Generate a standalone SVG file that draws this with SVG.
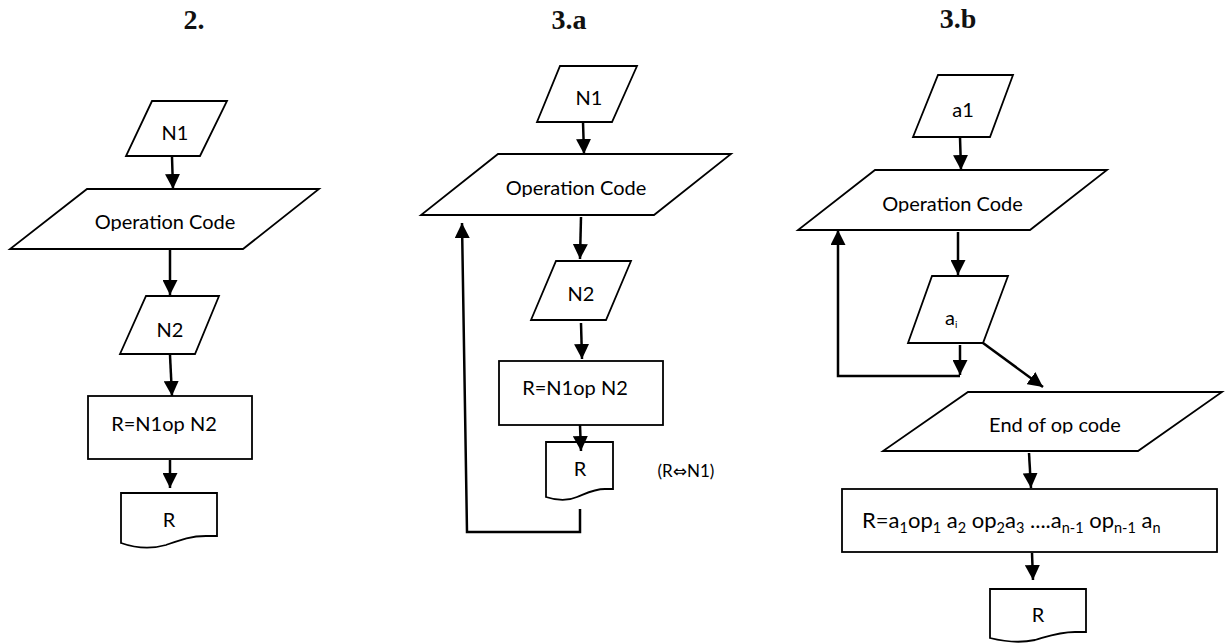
<svg xmlns="http://www.w3.org/2000/svg" width="1227" height="643" viewBox="0 0 1227 643">
<style>
.shape{fill:#fff;stroke:#000;stroke-width:1.8;stroke-linejoin:miter}
.conn{fill:none;stroke:#000;stroke-width:2.5;marker-end:url(#ah)}
.lbl{font-family:Lato,"Liberation Sans",sans-serif;font-size:20px;fill:#000;text-anchor:middle}
.sub{font-size:14.5px}
.title{font-family:"Liberation Serif","Times New Roman",serif;font-weight:bold;font-size:28px;fill:#111;text-anchor:middle}
</style>
<defs>
<marker id="ah" markerUnits="userSpaceOnUse" markerWidth="15" markerHeight="15" viewBox="0 0 15 15" refX="15" refY="7.5" orient="auto"><path d="M0,0 L15,7.5 L0,15 z" fill="#000"/></marker>
<clipPath id="c1"><rect x="0" y="180" width="330" height="51"/></clipPath>
<clipPath id="c2"><rect x="400" y="150" width="340" height="47"/></clipPath>
<clipPath id="c3"><rect x="790" y="165" width="330" height="47.5"/></clipPath>
<clipPath id="c4"><rect x="870" y="390" width="357" height="43.5"/></clipPath>
</defs>

<g id="titles">
<text class="title" x="194" y="29">2.</text>
<text class="title" x="569" y="29">3.a</text>
<text class="title" x="958" y="28">3.b</text>
</g>

<g id="p2-n1"><polygon class="shape" points="152,101 227,101 200,156 126,156"/><text class="lbl" x="175" y="140">N1</text></g>
<g id="p2-op"><polygon class="shape" points="87,189 319,189 243,249 10,249"/><text class="lbl" x="165" y="229" clip-path="url(#c1)">Operation Code</text></g>
<g id="p2-n2"><polygon class="shape" points="146,296 219,296 195,354 120,354"/><text class="lbl" x="170" y="337">N2</text></g>
<g id="p2-calc"><rect class="shape" x="88" y="396" width="164" height="63"/><text class="lbl" x="164" y="431">R=N1op N2</text></g>
<g id="p2-r"><path class="shape" d="M121,493 H217 V536 L206,536 C190,536 180,540 166,545 C152,549 138,549 121,543 Z"/><text class="lbl" x="169" y="527">R</text></g>

<g id="a-n1"><polygon class="shape" points="560,66 637,66 612,122 537,122"/><text class="lbl" x="589" y="105">N1</text></g>
<g id="a-op"><polygon class="shape" points="498,154 731,154 654,215 421,215"/><text class="lbl" x="576" y="195" clip-path="url(#c2)">Operation Code</text></g>
<g id="a-n2"><polygon class="shape" points="556,261 631,261 606,320 531,320"/><text class="lbl" x="581" y="301">N2</text></g>
<g id="a-calc"><rect class="shape" x="499" y="361" width="164" height="64"/><text class="lbl" x="575" y="395">R=N1op N2</text></g>
<g id="a-r"><path class="shape" d="M546,442 H613 V489 L605,489 C594,489 587,493 577,497 C568,501 558,501 546,497 Z"/><text class="lbl" x="580" y="476">R</text></g>
<g id="a-note"><text class="lbl" x="686" y="477" style="font-size:17px">(R<tspan style="font-family:'DejaVu Sans',sans-serif;font-size:17px">⇔</tspan>N1)</text></g>

<g id="b-a1"><polygon class="shape" points="938,75 1013,75 990,137 913,137"/><text class="lbl" x="963" y="117">a1</text></g>
<g id="b-op"><polygon class="shape" points="875,170 1107,170 1030,230 798,230"/><text class="lbl" x="952.5" y="210.5" clip-path="url(#c3)">Operation Code</text></g>
<g id="b-ai"><polygon class="shape" points="932,276 1008,276 983,343 908,343"/><text class="lbl" x="945" y="325" style="text-anchor:start">a<tspan style="font-size:10px" dy="3">i</tspan></text></g>
<g id="b-end"><polygon class="shape" points="968,392 1222,392 1138,451 883,451"/><text class="lbl" x="1055" y="432" clip-path="url(#c4)">End of op code</text></g>
<g id="b-calc"><rect class="shape" x="842" y="489" width="375" height="63"/><text class="lbl" x="862" y="528" style="text-anchor:start;font-size:22px">R=a<tspan class="sub" dy="5">1</tspan><tspan dy="-5">op</tspan><tspan class="sub" dy="5">1</tspan><tspan dy="-5"> a</tspan><tspan class="sub" dy="5">2</tspan><tspan dy="-5"> op</tspan><tspan class="sub" dy="5">2</tspan><tspan dy="-5">a</tspan><tspan class="sub" dy="5">3</tspan><tspan dy="-5"> ....a</tspan><tspan class="sub" dy="5">n-1</tspan><tspan dy="-5"> op</tspan><tspan class="sub" dy="5">n-1</tspan><tspan dy="-5"> a</tspan><tspan class="sub" dy="5">n</tspan></text></g>
<g id="b-r"><path class="shape" d="M990,589 H1086 V632 L1075,632 C1059,632 1049,636 1035,640 C1021,643 1006,642 990,638 Z"/><text class="lbl" x="1038" y="622">R</text></g>

<g id="connectors">
<path class="conn" d="M172,157 L173,189"/>
<path class="conn" d="M170,250 L170,295"/>
<path class="conn" d="M170,355 L172,396"/>
<path class="conn" d="M170,460 L170,488"/>

<path class="conn" d="M583,122 L584,154"/>
<path class="conn" d="M581,217 L580,259"/>
<path class="conn" d="M581,323 L582,359"/>
<path class="conn" d="M580,425 L581,451"/>
<path class="conn" d="M580,509 L580,532 L467,532 L462,223"/>

<path class="conn" d="M960,137 L961,170"/>
<path class="conn" d="M958,232 L958,275"/>
<path class="conn" d="M960,345 L960,375"/>
<path class="conn" d="M960,376 L838,376 L838,230"/>
<path class="conn" d="M983,343 L1043,387"/>
<path class="conn" d="M1029,453 L1031,488"/>
<path class="conn" d="M1032,553 L1033,580"/>
</g>
</svg>
